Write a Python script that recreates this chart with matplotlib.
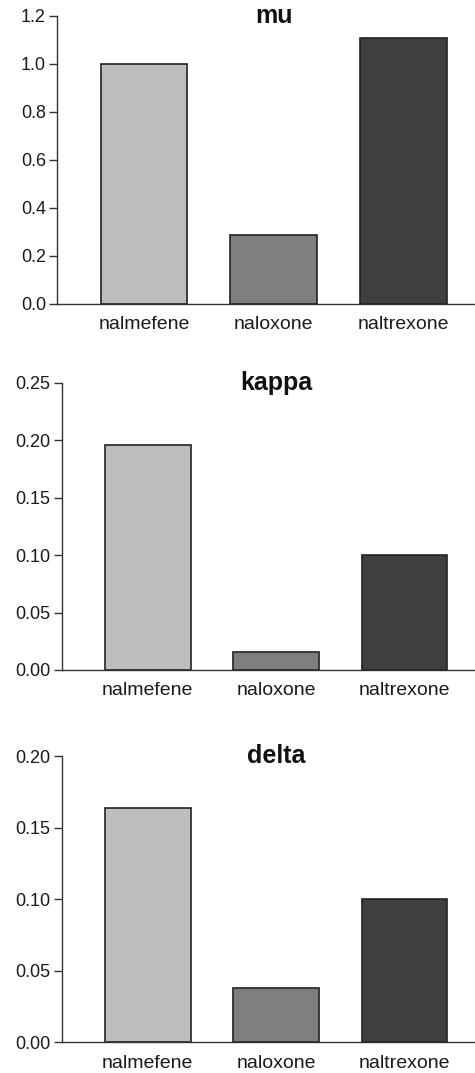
import matplotlib.pyplot as plt
import matplotlib.ticker as mticker

plt.rcParams["font.family"] = ["Liberation Sans", "DejaVu Sans"]

drugs = ["nalmefene", "naloxone", "naltrexone"]
bar_colors = ["#bebebe", "#7f7f7f", "#3f3f3f"]

receptors = ["mu", "kappa", "delta"]
mu_vals = [1.0, 0.287, 1.108]
kappa_vals = [0.1955, 0.016, 0.10]
delta_vals = [0.164, 0.038, 0.10]

y_limits = [1.2, 0.25, 0.20]
y_steps = [0.2, 0.05, 0.05]
y_formats = ["%.1f", "%.2f", "%.2f"]

# axes boxes in figure fractions: left, bottom, width, height
boxes = [
    [0.120, 0.7167, 0.880, 0.2684],
    [0.130, 0.3756, 0.870, 0.2678],
    [0.130, 0.0286, 0.870, 0.2668],
]

fig = plt.figure(figsize=(4.75, 10.73), dpi=100)

for name, vals, top, step, fmt, box in zip(receptors, [mu_vals, kappa_vals, delta_vals],
                                           y_limits, y_steps, y_formats, boxes):
    ax = fig.add_axes(box)
    ax.bar(range(len(drugs)), vals, width=0.667, color=bar_colors,
           edgecolor="#222222", linewidth=1.2, zorder=2)

    ax.set_xlim(-0.67, 2.55)
    ax.set_ylim(0, top)
    ax.yaxis.set_major_locator(mticker.MultipleLocator(step))
    ax.yaxis.set_major_formatter(mticker.FormatStrFormatter(fmt))
    ax.set_xticks(range(len(drugs)))
    ax.set_xticklabels(drugs)

    for side in ["top", "right"]:
        ax.spines[side].set_visible(False)
    for side in ["left", "bottom"]:
        ax.spines[side].set_color("#333333")
        ax.spines[side].set_linewidth(1.0)

    ax.tick_params(axis="y", direction="out", length=6, width=1.0, color="#333333",
                   labelsize=13, pad=2, labelcolor="#1a1a1a")
    ax.tick_params(axis="x", length=0, labelsize=14, pad=9, labelcolor="#1a1a1a")

    ax.text(1, top, name, ha="center", va="center", fontsize=18,
            fontweight="bold", color="#111111")

fig.savefig("out.png", dpi=100)
